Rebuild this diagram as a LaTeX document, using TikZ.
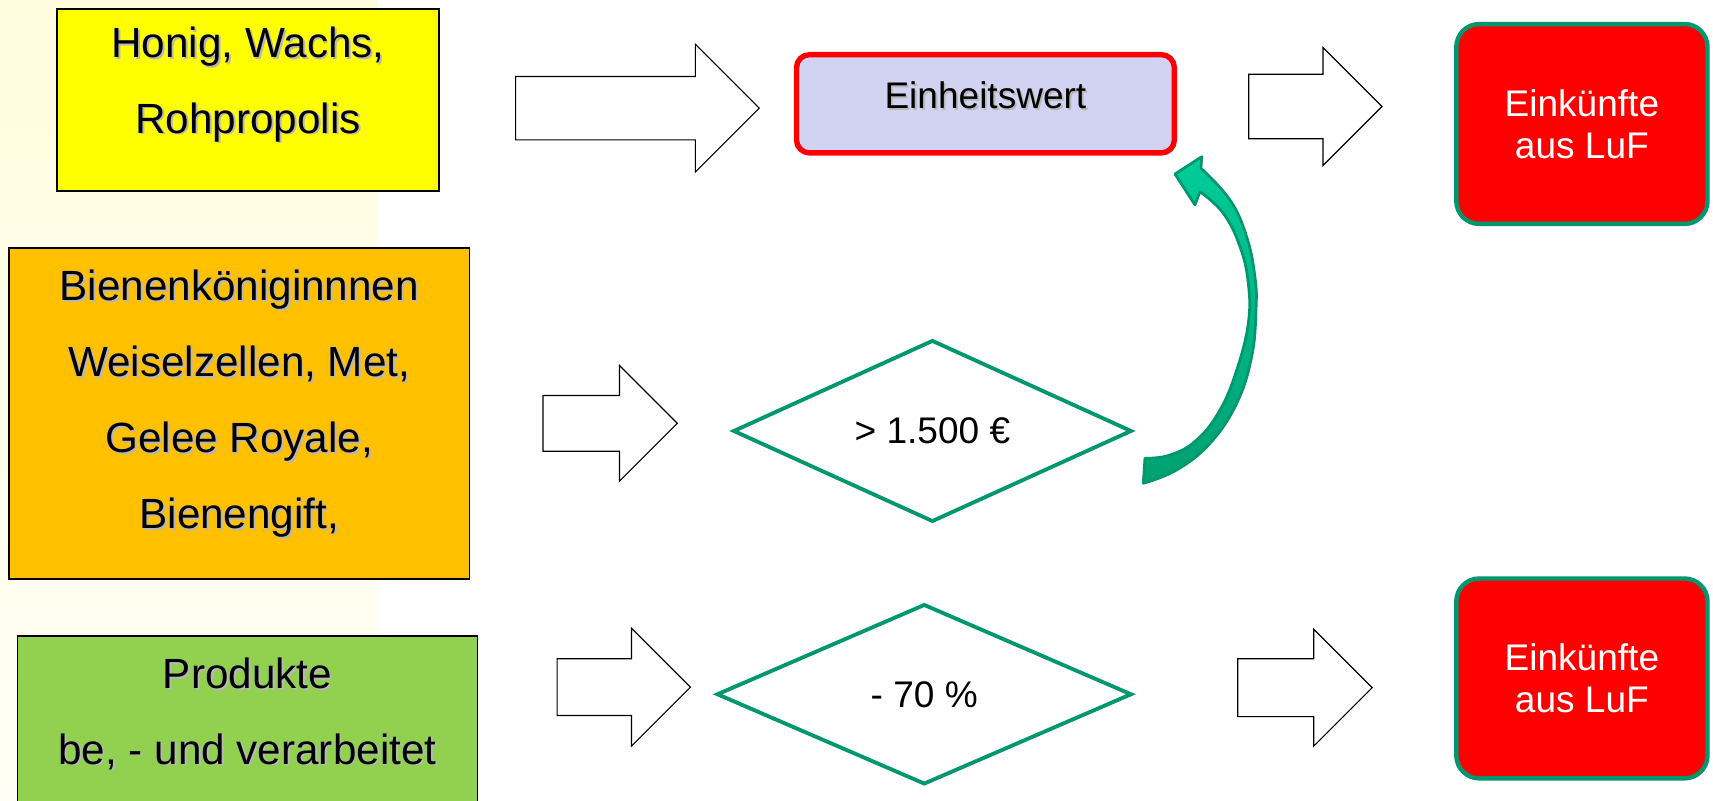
\documentclass[tikz,border=0pt]{standalone}
\usepackage{fontspec}
\setmainfont{Liberation Sans}
\usetikzlibrary{shapes.geometric}
\definecolor{boxyellow}{RGB}{255,255,0}
\definecolor{boxorange}{RGB}{255,192,0}
\definecolor{boxgreen}{RGB}{146,208,80}
\definecolor{lavender}{RGB}{210,210,242}
\definecolor{tealgreen}{RGB}{0,150,110}
\definecolor{arrowlight}{RGB}{0,204,153}
\definecolor{arrowdark}{RGB}{0,160,112}
\definecolor{stripyellow}{RGB}{255,252,222}
\definecolor{stripwhite}{RGB}{255,255,245}
\newcommand\shtxt[1]{\makebox[0pt][l]{\hspace{1pt}\raisebox{-1pt}{\textcolor{black!28}{#1}}}#1}
\newcommand\blockarrow[5]{\draw[blockarr] (#1,#3-#4) -- (#2-#5,#3-#4) -- (#2-#5,#3-#5) -- (#2,#3) -- (#2-#5,#3+#5) -- (#2-#5,#3+#4) -- (#1,#3+#4) -- cycle;}
\begin{document}
\begin{tikzpicture}[x=0.02cm, y=-0.02cm,
    prodbox/.style={draw=black, line width=0.8pt, inner sep=0pt},
    bigtxt/.style={align=center, font=\fontsize{22}{39.5}\selectfont},
    wertbox/.style={draw=red, line width=2.8pt, fill=lavender, rounded corners=0.24cm, minimum width=6.92cm, minimum height=1.8cm},
    lufbox/.style={draw=tealgreen, line width=2.3pt, fill=red, rounded corners=0.42cm, minimum width=4.6cm, minimum height=3.66cm, text=white, align=center, font=\fontsize{19.3}{21.8}\selectfont},
    rhomb/.style={diamond, draw=tealgreen, line width=2pt, fill=white, inner sep=0pt, minimum height=3.3cm, font=\fontsize{19.3}{22}\selectfont},
    blockarr/.style={draw=black, fill=white, line width=0.6pt, line join=miter},
    curvedarr/.style={top color=arrowlight, bottom color=arrowdark, draw=tealgreen, line width=1.4pt, line join=round}
    ]
	\useasboundingbox (0,0) rectangle (1568,733.2);
	\clip (0,0) rectangle (1568,733.2);
	\fill[white] (0,0) rectangle (1568,733.2);
	\shade[top color=stripyellow, bottom color=stripwhite] (0,0) rectangle (345,733.2);

	\node [prodbox, fill=boxyellow, minimum width=7cm, minimum height=3.34cm] (honigbox) at (227,91.5) {};
	\node [bigtxt] (honig) at (227,78) {\shtxt{Honig, Wachs,}\\ \shtxt{Rohpropolis}};
	\node [prodbox, fill=boxorange, minimum width=8.44cm, minimum height=6.06cm] (koeniginbox) at (219,378.5) {};
	\node [bigtxt] (koenigin) at (219,370.5) {\shtxt{Bienenköniginnnen}\\ \shtxt{Weiselzellen, Met,}\\ \shtxt{Gelee Royale,}\\ \shtxt{Bienengift,}};
	\node [prodbox, fill=boxgreen, minimum width=8.42cm, minimum height=3.56cm] (produktbox) at (226.5,671) {};
	\node [bigtxt] (produkt) at (226.5,654) {\shtxt{Produkte}\\ \shtxt{be, - und verarbeitet}};

	\node [wertbox] (wertbox) at (902,95) {};
	\node [font=\fontsize{19.3}{22}\selectfont] (wert) at (902,88) {\shtxt{Einheitswert}};
	\node [lufbox] (luftop) at (1448,113.5) {Einkünfte\\aus LuF};
	\node [lufbox] (lufbot) at (1448,621) {Einkünfte\\aus LuF};

	\node [rhomb, minimum width=7.3cm] (grenze) at (853.5,394.5) {> 1.500 €};
	\node [rhomb, minimum width=7.6cm] (abzug) at (846,635.5) {- 70 \%};

	\blockarrow{472}{695}{99}{29}{58.5}
	\blockarrow{1143}{1265}{97.5}{29.5}{54}
	\blockarrow{497}{620}{387.5}{25.5}{53}
	\blockarrow{510}{632}{629}{26}{54}
	\blockarrow{1133}{1256}{629.5}{26.5}{53.5}

	\path [curvedarr] (1075.5,159.3) -- (1100,143.4) -- (1099.3,154)
		-- plot [smooth, tension=0.7] coordinates {(1099.3,154) (1125.9,183.1) (1141.1,216.7) (1148.7,253.3) (1149.7,283.8) (1145.7,326.5) (1132,369.2) (1107.6,405.8) (1077,430.2) (1046.5,442.4)}
		-- (1048,419.5)
		-- plot [smooth, tension=0.7] coordinates {(1048,419.5) (1071,416.5) (1095.4,402.7) (1116.7,375.3) (1132,338.7) (1142.6,295.9) (1142.6,259.3) (1135,225.8) (1119.7,195.2) (1098.4,175.5)}
		-- (1093.8,187.6) -- cycle;
\end{tikzpicture}
\end{document}
